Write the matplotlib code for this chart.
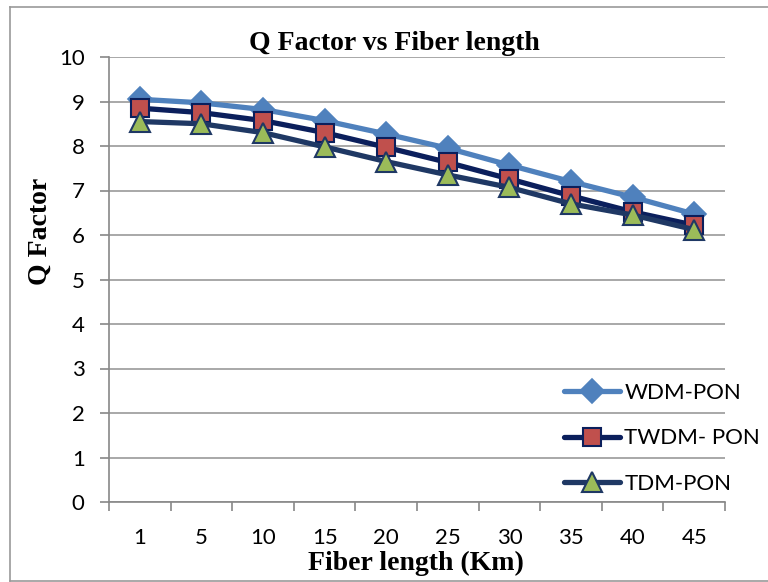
import matplotlib
matplotlib.use("Agg")
import matplotlib.pyplot as plt
from matplotlib.lines import Line2D

categories = ["1", "5", "10", "15", "20", "25", "30", "35", "40", "45"]
wdm_pon = [9.05, 8.97, 8.82, 8.57, 8.27, 7.95, 7.57, 7.20, 6.85, 6.47]
twdm_pon = [8.85, 8.75, 8.57, 8.30, 7.97, 7.63, 7.26, 6.88, 6.52, 6.22]
tdm_pon = [8.55, 8.50, 8.30, 7.98, 7.65, 7.35, 7.07, 6.70, 6.45, 6.12]
y_ticks = [0, 1, 2, 3, 4, 5, 6, 7, 8, 9, 10]

W, H = 768, 582
fig = plt.figure(figsize=(W / 100, H / 100), dpi=100)
ax = fig.add_axes([109 / W, 1 - 502 / H, 616 / W, 445 / H])

x = list(range(len(categories)))
ax.plot(x, wdm_pon, color="#4F81BD", lw=3.8, marker="D", ms=12,
        mfc="#4F81BD", mec="#4F81BD", mew=1.2, label="WDM-PON", zorder=3,
        solid_capstyle="round")
ax.plot(x, twdm_pon, color="#0B1F5C", lw=3.8, marker="s", ms=13,
        mfc="#C0504D", mec="#0B1F5C", mew=1.5, label="TWDM- PON", zorder=4,
        solid_capstyle="round")
ax.plot(x, tdm_pon, color="#1F3864", lw=3.8, marker="^", ms=14,
        mfc="#9BBB59", mec="#1F3864", mew=1.5, label="TDM-PON", zorder=5,
        solid_capstyle="round")

ax.set_xlim(-0.5, len(categories) - 0.5)
ax.set_ylim(0, 10)
ax.set_yticks(y_ticks)
ax.set_yticklabels([str(v) for v in y_ticks])
ax.yaxis.grid(True, color="#999999", lw=1.2, zorder=0)
ax.set_axisbelow(True)

ax.set_xticks([i - 0.5 for i in range(len(categories) + 1)])
ax.set_xticklabels([])
ax.set_xticks(x, minor=True)
ax.set_xticklabels(categories, minor=True)
ax.tick_params(axis="x", which="major", length=6.5, width=1.2, color="#888888", direction="out")
ax.tick_params(axis="x", which="minor", length=0, pad=19, labelsize=16)
ax.tick_params(axis="y", length=6.5, width=1.2, color="#888888", direction="out", labelsize=16, pad=11)
for lab in ax.get_xticklabels(minor=True) + ax.get_yticklabels():
    lab.set_family("Lato")

for s in ["top", "right"]:
    ax.spines[s].set_visible(False)
for s in ["left", "bottom"]:
    ax.spines[s].set_color("#888888")
    ax.spines[s].set_linewidth(1.2)

fig.text(394 / W, 1 - 44 / H, "Q Factor vs Fiber length", ha="center", va="center",
         family="Liberation Serif", fontweight="bold", fontsize=20)
fig.text(416 / W, 1 - 563 / H, "Fiber length (Km)", ha="center", va="center",
         family="Liberation Serif", fontweight="bold", fontsize=20)
fig.text(40 / W, 1 - 231 / H, "Q Factor", ha="center", va="center", rotation=90,
         family="Liberation Serif", fontweight="bold", fontsize=20)

leg = ax.legend(loc="lower right", bbox_to_anchor=(760 / W, 1 - 494 / H),
                bbox_transform=fig.transFigure, frameon=False,
                prop={"family": "Lato", "size": 16}, handlelength=2.5,
                handletextpad=0.2, labelspacing=1.15, borderpad=0, borderaxespad=0)

fig.add_artist(Line2D([10 / W, 10 / W], [1 / H, 1 - 7 / H], transform=fig.transFigure,
                      color="#999999", lw=1.2))
fig.add_artist(Line2D([10 / W, 1], [1 - 7 / H, 1 - 7 / H], transform=fig.transFigure,
                      color="#999999", lw=1.2))
fig.add_artist(Line2D([10 / W, 1], [1 / H, 1 / H], transform=fig.transFigure,
                      color="#999999", lw=1.2))

fig.savefig("out.png", dpi=100)
